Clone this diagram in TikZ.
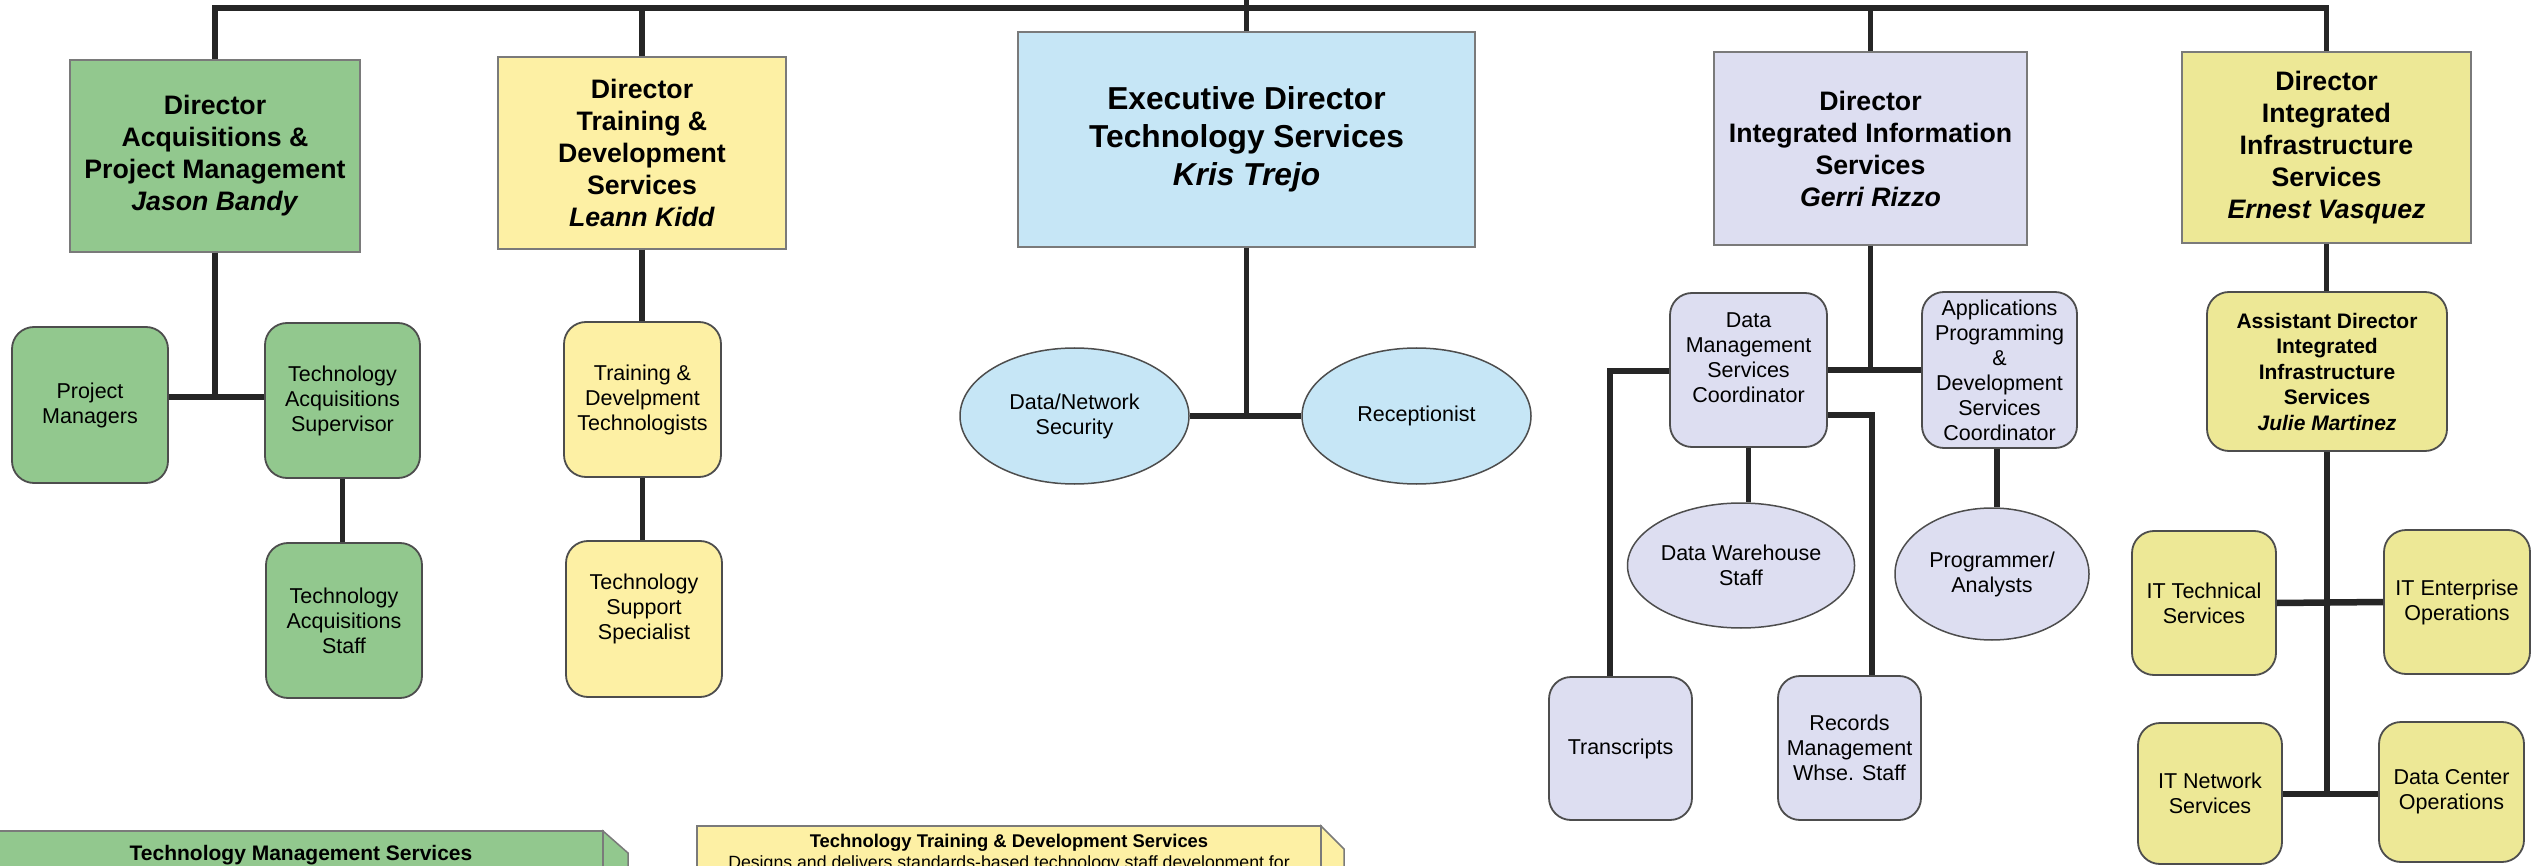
\documentclass[tikz,border=0pt]{standalone}
\usepackage{fontspec}
\setmainfont{Liberation Sans}
\usetikzlibrary{shapes.geometric}
\definecolor{cgreen}{HTML}{92C88E}
\definecolor{cyellow}{HTML}{FDF0A4}
\definecolor{cblue}{HTML}{C6E6F6}
\definecolor{clav}{HTML}{DDDEF1}
\definecolor{colive}{HTML}{EDE896}
\definecolor{cline}{HTML}{262626}
\definecolor{cdirb}{HTML}{7A7A7A}
\definecolor{ckidb}{HTML}{4D4D4D}
\begin{document}
\begin{tikzpicture}[x=1pt,y=-1pt,
  dirbox/.style={rectangle, draw=cdirb, line width=1.5pt, inner sep=0pt, align=center,
    font=\fontsize{26.7}{32}\selectfont\bfseries},
  kid/.style={rectangle, rounded corners=22pt, draw=ckidb, line width=1.8pt, inner sep=0pt,
    align=center, font=\fontsize{21.5}{25}\selectfont},
  oval/.style={ellipse, draw=ckidb, line width=1.5pt, inner sep=0pt, align=center,
    font=\fontsize{21.5}{25}\selectfont},
  conn/.style={draw=cline, line width=5.5pt, line join=miter},
  hconn/.style={draw=cline, line width=6.5pt}
]
\useasboundingbox (0,0) rectangle (2536,866);
\clip (0,0) rectangle (2536,866);
\fill[white] (0,0) rectangle (2536,866);

% Directors
\node[dirbox, fill=cgreen, minimum width=290pt, minimum height=192pt] (dacq) at (215,156)
  {Director\\Acquisitions \&\\Project Management\\\textit{Jason Bandy}};
\node[dirbox, fill=cyellow, minimum width=288pt, minimum height=192pt] (dtrain) at (642,153)
  {Director\\Training \&\\Development\\Services\\\textit{Leann Kidd}};
\node[dirbox, fill=cblue, minimum width=457pt, minimum height=215pt,
  font=\fontsize{31.7}{38}\selectfont\bfseries] (exec) at (1246.5,139.5)
  {Executive Director\\Technology Services\\\textit{Kris Trejo}};
\node[dirbox, fill=clav, minimum width=313pt, minimum height=193pt] (diis) at (1870.5,148.5)
  {Director\\Integrated Information\\Services\\\textit{Gerri Rizzo}};
\node[dirbox, fill=colive, minimum width=289pt, minimum height=191pt] (dinfra) at (2326.5,147.5)
  {Director\\Integrated\\Infrastructure\\Services\\\textit{Ernest Vasquez}};

% Acquisitions children
\node[kid, fill=cgreen, minimum width=156pt, minimum height=156pt] (pm) at (90,405)
  {Project\\Managers};
\node[kid, fill=cgreen, minimum width=155pt, minimum height=155pt] (tas) at (342.5,400.5)
  {Technology\\Acquisitions\\Supervisor};
\node[kid, fill=cgreen, minimum width=156pt, minimum height=155pt] (tastf) at (344,620.5)
  {Technology\\Acquisitions\\Staff};

% Training children
\node[kid, fill=cyellow, minimum width=157pt, minimum height=155pt] (tdt) at (642.5,399.5)
  {Training \&\\Develpment\\Technologists};
\node[kid, fill=cyellow, minimum width=156pt, minimum height=156pt] (tss) at (644,619)
  {Technology\\Support\\Specialist\\\mbox{}};

% Exec children
\node[oval, fill=cblue, minimum width=229pt, minimum height=136pt] (dns) at (1074.5,416)
  {Data/Network\\Security};
\node[oval, fill=cblue, minimum width=229pt, minimum height=136pt] (rec) at (1416.5,416)
  {Receptionist};

% IIS children
\node[kid, fill=clav, minimum width=157pt, minimum height=154pt] (dmsc) at (1748.5,370)
  {Data\\Management\\Services\\Coordinator\\\mbox{}};
\node[kid, fill=clav, minimum width=155pt, minimum height=156pt] (apds) at (1999.5,370)
  {Applications\\Programming\\\&\\Development\\Services\\Coordinator};
\node[oval, fill=clav, minimum width=218pt, minimum height=125pt] (dws) at (1741,565.5)
  {Data Warehouse\\Staff};
\node[oval, fill=clav, minimum width=194pt, minimum height=132pt] (prog) at (1992,574)
  {Programmer/\\Analysts};
\node[kid, fill=clav, minimum width=143pt, minimum height=143pt] (trans) at (1620.5,748.5)
  {Transcripts};
\node[kid, fill=clav, minimum width=143pt, minimum height=144pt] (recs) at (1849.5,748)
  {Records\\Management\\Whse. Staff};

% Infrastructure children
\node[kid, fill=colive, minimum width=240pt, minimum height=159pt,
  font=\fontsize{21}{25.5}\selectfont\bfseries] (asst) at (2327,371.5)
  {Assistant Director\\Integrated\\Infrastructure\\Services\\\textit{Julie Martinez}};
\node[kid, fill=colive, minimum width=144pt, minimum height=144pt] (itts) at (2204,603)
  {IT Technical\\Services};
\node[kid, fill=colive, minimum width=146pt, minimum height=144pt] (iteo) at (2457,602)
  {IT Enterprise\\Operations};
\node[kid, fill=colive, minimum width=144pt, minimum height=141pt] (itns) at (2210,793.5)
  {IT Network\\Services};
\node[kid, fill=colive, minimum width=145pt, minimum height=140pt] (dco) at (2451.5,792)
  {Data Center\\Operations};

% Connectors: top bar
\coordinate (tl) at (214,8);
\coordinate (ttop) at (1247,-6);
\draw[conn] (dacq.north) -- (dacq.north |- tl) -- (dinfra.north |- tl) -- (dinfra.north);
\draw[conn] (dtrain.north) -- (dtrain.north |- tl);
\draw[conn] (diis.north) -- (diis.north |- tl);
\draw[conn] (exec.north) -- (exec.north |- ttop);

% Acquisitions
\coordinate (ja) at (217,397);
\draw[conn] (dacq.south) -- (dacq.south |- ja);
\draw[hconn] (pm.east |- ja) -- (tas.west |- ja);
\draw[conn] (tas.south) -- (tas.south |- tastf.north);

% Training
\draw[conn] (dtrain.south) -- (dtrain.south |- tdt.north);
\draw[conn] (tdt.south) -- (tdt.south |- tss.north);

% Exec
\draw[conn] (exec.south) -- (exec.south |- dns.east);
\draw[hconn] (dns.east) -- (rec.west);

% IIS
\draw[conn] (diis.south) -- (diis.south |- dmsc.east);
\draw[hconn] (dmsc.east) -- (apds.west);
\draw[conn] (dmsc.west |- 0,371) -| (trans.north -| 1610,0);
\draw[conn] (dmsc.east |- 0,415) -| (recs.north -| 1872,0);
\draw[conn] (dmsc.south) -- (dmsc.south |- dws.north);
\draw[conn] (apds.south -| 1997,0) -- (prog.north -| 1997,0);

% Infrastructure
\coordinate (ji) at (2327,794);
\draw[conn] (dinfra.south) -- (dinfra.south |- asst.north);
\draw[conn] (asst.south) -- (asst.south |- ji);
\draw[hconn] (itts.east) -- (iteo.west);
\draw[hconn] (itns.east |- ji) -- (dco.west |- ji);

% Bottom description boxes
\draw[draw=cdirb, line width=1.5pt, fill=cgreen] (-3,831) rectangle (603,900);
\draw[draw=cdirb, line width=1.5pt, fill=cgreen] (603,831) -- (628,853) -- (628,900) -- (603,900) -- cycle;
\node[anchor=base, inner sep=0pt, font=\fontsize{21}{25}\selectfont\bfseries] (tms) at (301,860)
  {Technology Management Services};
\draw[draw=cdirb, line width=1.5pt, fill=cyellow] (697,826) rectangle (1321,900);
\draw[draw=cdirb, line width=1.5pt, fill=cyellow] (1321,826) -- (1344,849) -- (1344,900) -- (1321,900) -- cycle;
\node[anchor=base, inner sep=0pt, font=\fontsize{18.4}{21}\selectfont\bfseries] (ttds) at (1009,847)
  {Technology Training \& Development Services};
\node[anchor=base, inner sep=0pt, font=\fontsize{17.7}{21}\selectfont] (ttdsd) at (1009,868)
  {Designs and delivers standards-based technology staff development for};
\end{tikzpicture}
\end{document}
